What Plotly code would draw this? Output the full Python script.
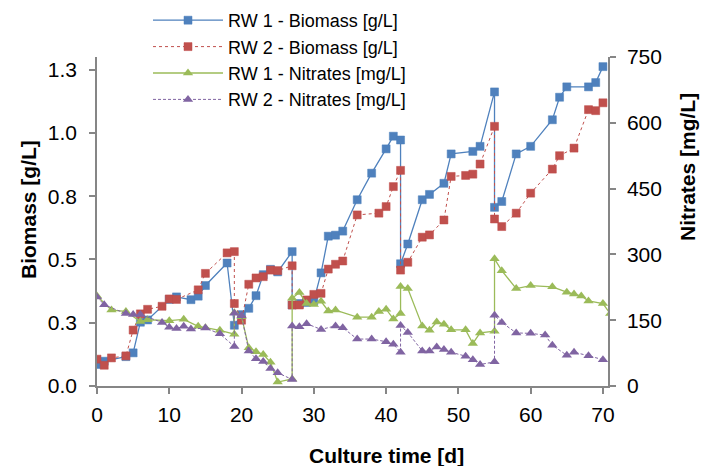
import plotly.graph_objects as go

# ---- data ----
t_bio1 = [0, 1, 4, 5, 6, 7, 10, 11, 13, 14, 15, 18, 19, 20, 21, 22, 23, 24, 25, 27, 27, 28, 29, 30, 31, 32, 33, 34,
          36, 38, 40, 41, 42, 42, 43, 45, 46, 48, 49, 52, 53, 55, 55, 56, 58, 60, 63, 64, 65, 68, 69, 70]
bio1 = [0.085, 0.098, 0.116, 0.131, 0.252, 0.261, 0.342, 0.352, 0.341, 0.355, 0.397, 0.486, 0.240, 0.282, 0.307,
        0.357, 0.440, 0.461, 0.451, 0.531, 0.320, 0.326, 0.330, 0.337, 0.447, 0.592, 0.596, 0.612,
        0.736, 0.841, 0.937, 0.987, 0.972, 0.483, 0.561, 0.736, 0.757, 0.801, 0.917, 0.927, 0.947,
        1.162, 0.706, 0.729, 0.917, 0.947, 1.052, 1.141, 1.182, 1.182, 1.199, 1.262]

t_bio2 = [0, 1, 2, 4, 5, 6, 7, 9, 10, 11, 14, 15, 18, 19, 19, 20, 21, 22, 23, 24, 25, 27, 27, 28, 29, 30, 31, 32,
          33, 34, 36, 39, 40, 41, 42, 42, 43, 45, 46, 48, 49, 51, 52, 53, 55, 55, 56, 58, 60, 63, 64, 66,
          68, 69, 70]
bio2 = [0.106, 0.082, 0.111, 0.119, 0.221, 0.285, 0.303, 0.315, 0.344, 0.342, 0.380, 0.445, 0.526, 0.531, 0.326,
        0.260, 0.402, 0.427, 0.432, 0.458, 0.456, 0.475, 0.320, 0.320, 0.340, 0.362, 0.366, 0.462,
        0.481, 0.494, 0.676, 0.683, 0.709, 0.788, 0.852, 0.458, 0.489, 0.588, 0.597, 0.656, 0.828,
        0.832, 0.837, 0.877, 1.026, 0.660, 0.630, 0.683, 0.762, 0.857, 0.910, 0.940, 1.092, 1.088, 1.119]

t_nit1 = [0, 2, 4, 6, 7, 10, 12, 14, 15, 17, 19, 19, 20, 21, 22, 23, 24, 25, 27, 27, 28, 29, 30, 31, 32, 33, 36,
          38, 39, 40, 41, 42, 42, 43, 45, 46, 47, 48, 49, 51, 52, 53, 55, 55, 56, 58, 60, 63, 65, 66, 67,
          68, 70, 71]
nit1 = [205, 173, 170, 147, 151, 149, 152, 136, 133, 127, 118, 167, 158, 87, 78, 72, 54, 9, 16, 200, 213, 188,
        186, 193, 171, 173, 157, 157, 170, 175, 153, 165, 227, 222, 137, 127, 146, 141, 128, 128, 97,
        121, 125, 290, 263, 222, 229, 226, 214, 210, 205, 194, 188, 165]

t_nit2 = [0, 1, 4, 5, 6, 9, 10, 11, 12, 13, 15, 17, 19, 19, 20, 21, 22, 23, 24, 25, 27, 27, 28, 29, 31, 33, 34,
          36, 38, 40, 41, 42, 42, 43, 45, 46, 47, 48, 49, 51, 52, 53, 55, 55, 56, 58, 60, 62, 63, 65, 66,
          68, 70]
nit2 = [203, 185, 165, 163, 163, 145, 134, 131, 136, 130, 132, 119, 90, 166, 160, 80, 62, 56, 40, 30, 15, 137,
        135, 142, 129, 137, 133, 107, 107, 101, 95, 77, 138, 122, 80, 80, 89, 83, 77, 68, 60, 49, 55,
        161, 145, 121, 120, 116, 93, 70, 77, 69, 60]

names = ["RW 1 - Biomass [g/L]", "RW 2 - Biomass [g/L]", "RW 1 - Nitrates [mg/L]", "RW 2 - Nitrates [mg/L]"]
x_ticks = [0, 10, 20, 30, 40, 50, 60, 70]
y1_ticks = [0, 0.25, 0.5, 0.75, 1.0, 1.25]
y2_ticks = [0, 150, 300, 450, 600, 750]

BLUE, RED, GREEN, PURPLE = "#4F81BD", "#C0504D", "#9BBB59", "#8064A2"
FONT = "Liberation Sans, Arial, sans-serif"
AX = "#868686"

# the page body has an 8px default margin, so the figure is drawn at (8, 8)
OFF = 8
W, H = 711 - OFF, 466 - OFF
pl, pr, pt, pb = 97 - OFF, 608 - OFF, 57 - OFF, 386 - OFF


def px_x(px):
    return (px - OFF - pl) / (pr - pl)


def px_y(py):
    return (pb - (py - OFF)) / (pb - pt)


fig = go.Figure()
fig.add_trace(go.Scatter(x=t_bio1, y=bio1, name=names[0], mode="lines+markers",
                         line=dict(color=BLUE, width=1.3),
                         marker=dict(symbol="square", size=8, color=BLUE, line=dict(color="#4A7EBB", width=0.5))))
fig.add_trace(go.Scatter(x=t_bio2, y=bio2, name=names[1], mode="lines+markers",
                         line=dict(color=RED, width=1, dash="dot"),
                         marker=dict(symbol="square", size=8, color=RED, line=dict(color="#BE4B48", width=0.5))))
fig.add_trace(go.Scatter(x=t_nit1, y=nit1, name=names[2], mode="lines+markers", yaxis="y2",
                         line=dict(color=GREEN, width=1.3),
                         marker=dict(symbol="triangle-up", size=9, color=GREEN)))
fig.add_trace(go.Scatter(x=t_nit2, y=nit2, name=names[3], mode="lines+markers", yaxis="y2",
                         line=dict(color=PURPLE, width=1, dash="3px,2px"),
                         marker=dict(symbol="triangle-up", size=9, color=PURPLE)))

axis_common = dict(showgrid=False, zeroline=False, showline=True, linecolor=AX, linewidth=1.5,
                   ticks="outside", ticklen=6, tickcolor=AX, tickwidth=1.5,
                   tickfont=dict(family=FONT, size=21, color="#000000"))

title_font = dict(family=FONT, size=21, color="#000000")

fig.update_layout(
    width=W, height=H,
    margin=dict(l=pl, r=W - pr, t=pt, b=H - pb, autoexpand=False),
    paper_bgcolor="white", plot_bgcolor="white",
    font=dict(family=FONT, color="#000000"),
    xaxis=dict(range=[0, 70.7], tickmode="array", tickvals=x_ticks, ticklabelstandoff=3, **axis_common),
    yaxis=dict(range=[0, 1.3], tickmode="array", tickvals=y1_ticks, tickformat=".1f",
               ticklabelstandoff=8, **axis_common),
    yaxis2=dict(range=[0, 750], tickmode="array", tickvals=y2_ticks, overlaying="y", side="right",
                ticklabelstandoff=7, **axis_common),
    showlegend=True,
    legend=dict(x=px_x(148), y=px_y(2), xanchor="left", yanchor="top", bgcolor="rgba(0,0,0,0)",
                font=dict(family=FONT, size=18, color="#000000"), itemwidth=70, tracegroupgap=0),
    annotations=[
        dict(text="<b>Biomass [g/L]</b>", x=px_x(28), y=px_y(210), xref="paper", yref="paper",
             xanchor="center", yanchor="middle", showarrow=False, textangle=-90, font=title_font),
        dict(text="<b>Nitrates [mg/L]</b>", x=px_x(687), y=px_y(167), xref="paper", yref="paper",
             xanchor="center", yanchor="middle", showarrow=False, textangle=-90, font=title_font),
        dict(text="<b>Culture time [d]</b>", x=px_x(386), y=px_y(455), xref="paper", yref="paper",
             xanchor="center", yanchor="middle", showarrow=False, font=title_font),
    ],
)

fig.write_html("out.html")
